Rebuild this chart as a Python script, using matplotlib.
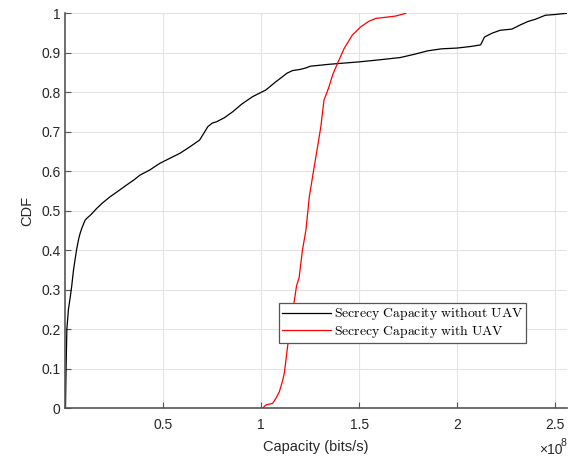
import matplotlib
matplotlib.use("Agg")
import matplotlib.pyplot as plt

# Data (capacity in units of 1e8 bits/s, CDF)
cap_without = [0, 0.003, 0.007, 0.015, 0.024, 0.032, 0.041, 0.05, 0.058, 0.068, 0.075, 0.083,
               0.1, 0.112, 0.13, 0.16, 0.19, 0.227, 0.27, 0.312, 0.35, 0.38, 0.43, 0.482,
               0.53, 0.583, 0.63, 0.685, 0.705, 0.727, 0.75, 0.77, 0.81, 0.855, 0.9, 0.956,
               1.0, 1.024, 1.07, 1.11, 1.13, 1.16, 1.2, 1.23, 1.25, 1.29, 1.35, 1.5, 1.6,
               1.71, 1.78, 1.85, 1.92, 2.0, 2.07, 2.12, 2.13, 2.14, 2.18, 2.22, 2.28, 2.32,
               2.36, 2.4, 2.45, 2.5, 2.56]
cdf_without = [0, 0.1, 0.2, 0.25, 0.28, 0.31, 0.35, 0.38, 0.405, 0.43, 0.443, 0.455,
               0.476, 0.482, 0.49, 0.506, 0.52, 0.535, 0.55, 0.565, 0.578, 0.59, 0.603, 0.62,
               0.632, 0.645, 0.66, 0.679, 0.695, 0.713, 0.722, 0.725, 0.735, 0.751, 0.77, 0.789,
               0.8, 0.806, 0.825, 0.84, 0.848, 0.855, 0.858, 0.862, 0.866, 0.868, 0.871, 0.877, 0.882,
               0.888, 0.896, 0.905, 0.91, 0.912, 0.916, 0.92, 0.93, 0.94, 0.95, 0.957, 0.96, 0.97,
               0.979, 0.985, 0.995, 0.997, 1.0]

cap_with = [1.007, 1.024, 1.058, 1.075, 1.092, 1.109, 1.118, 1.134, 1.143, 1.155, 1.168, 1.18,
            1.193, 1.21, 1.228, 1.245, 1.27, 1.29, 1.304, 1.32, 1.343, 1.365, 1.389, 1.423,
            1.465, 1.508, 1.55, 1.584, 1.686, 1.737]
cdf_with = [0, 0.008, 0.012, 0.025, 0.041, 0.07, 0.09, 0.155, 0.19, 0.23, 0.27, 0.31,
            0.33, 0.4, 0.451, 0.535, 0.611, 0.67, 0.713, 0.78, 0.81, 0.845, 0.873, 0.911,
            0.945, 0.966, 0.98, 0.987, 0.993, 1.0]

scale = 1e8
xticks = [0.5e8, 1e8, 1.5e8, 2e8, 2.5e8]
xticklabels = ['0.5', '1', '1.5', '2', '2.5']
yticks = [0, 0.1, 0.2, 0.3, 0.4, 0.5, 0.6, 0.7, 0.8, 0.9, 1]
yticklabels = ['0', '0.1', '0.2', '0.3', '0.4', '0.5', '0.6', '0.7', '0.8', '0.9', '1']
labels = [r'$\mathrm{Secrecy\ Capacity\ without\ UAV}$', r'$\mathrm{Secrecy\ Capacity\ with\ UAV}$']

plt.rcParams['font.family'] = ['Liberation Sans', 'DejaVu Sans']
plt.rcParams['mathtext.fontset'] = 'cm'

txt = '#262626'
fig = plt.figure(figsize=(5.76, 4.59), dpi=100)
ax = fig.add_axes([0.1137, 0.111, 0.8703, 0.860])

ax.plot([c * scale for c in cap_without], cdf_without, color='black', lw=0.9, label=labels[0])
ax.plot([c * scale for c in cap_with], cdf_with, color='red', lw=0.9, label=labels[1])

ax.set_xlim(0, 2.56e8)
ax.set_ylim(0, 1)
ax.set_xticks(xticks)
ax.set_xticklabels(xticklabels)
ax.set_yticks(yticks)
ax.set_yticklabels(yticklabels)

ax.grid(True, color='#e3e3e3', lw=0.8)
ax.set_axisbelow(True)
for s in ['top', 'right']:
    ax.spines[s].set_visible(False)
for s in ['left', 'bottom']:
    ax.spines[s].set_color('#555555')
    ax.spines[s].set_linewidth(1.2)
ax.tick_params(direction='in', length=4, width=0.8, colors='#555555', labelcolor=txt, labelsize=10)
ax.tick_params(axis='x', pad=7)

# exponent label (x10 with superscript 8), drawn as plain text
ax.annotate('\u00d710', xy=(1, 0), xycoords='axes fraction', xytext=(-3.3, -30),
            textcoords='offset points', ha='right', va='center', fontsize=10, color=txt)
ax.annotate('8', xy=(1, 0), xycoords='axes fraction', xytext=(0, -25),
            textcoords='offset points', ha='right', va='center', fontsize=7.5, color=txt)

ax.set_xlabel('Capacity (bits/s)', fontsize=10.5, color=txt, labelpad=6)
ax.set_ylabel('CDF', fontsize=10.5, color=txt, labelpad=5)

leg = ax.legend(loc='upper left', bbox_to_anchor=(0.4257, 0.267), fontsize=9.9,
                handlelength=3.6, handletextpad=0.2, borderpad=0.2, labelspacing=0.05,
                fancybox=False, framealpha=1, borderaxespad=0)
leg.get_frame().set_edgecolor('#555555')
leg.get_frame().set_linewidth(0.9)

fig.savefig('out.png', dpi=100)
